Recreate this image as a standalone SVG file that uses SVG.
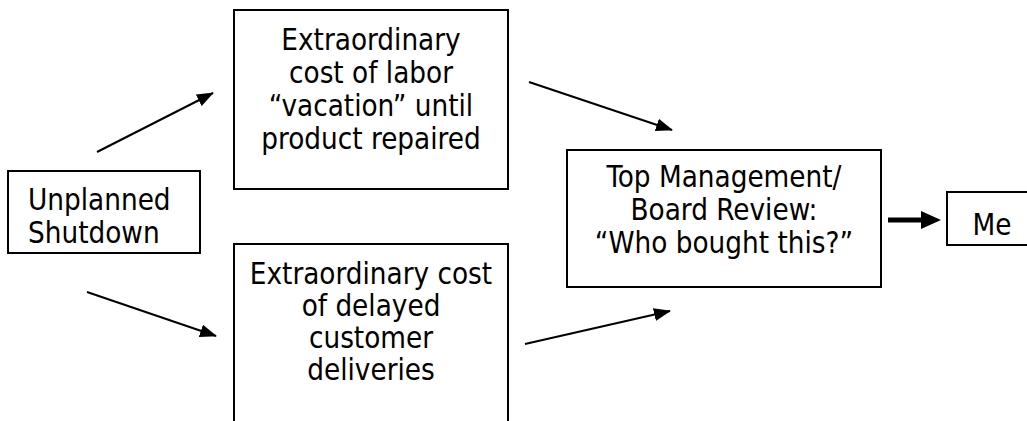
<svg xmlns="http://www.w3.org/2000/svg" width="1027" height="421" viewBox="0 0 1027 421">
  <style>
    .box { fill: #ffffff; stroke: #000000; stroke-width: 2; }
    .lbl { font-family: "DejaVu Sans", "Liberation Sans", sans-serif; font-stretch: condensed; font-size: 29.3px; fill: #000000; }
    .mid { text-anchor: middle; }
    .conn { stroke: #000000; stroke-width: 2; fill: none; marker-end: url(#head); }
    .bold { stroke: #000000; stroke-width: 5; fill: none; marker-end: url(#bighead); }
  </style>
  <defs>
    <marker id="head" markerUnits="userSpaceOnUse" markerWidth="17" markerHeight="13" refX="16" refY="6.5" orient="auto">
      <path d="M0,0 L17,6.5 L0,13 z" fill="#000000"/>
    </marker>
    <marker id="bighead" markerUnits="userSpaceOnUse" markerWidth="20" markerHeight="18" refX="2" refY="9" orient="auto">
      <path d="M0,0 L20,9 L0,18 z" fill="#000000"/>
    </marker>
  </defs>
  <rect width="1027" height="421" fill="#ffffff"/>

  <g id="unplanned-shutdown">
    <rect class="box" x="8" y="171" width="192" height="82"/>
    <text class="lbl" x="28" y="210">Unplanned</text>
    <text class="lbl" x="28" y="243">Shutdown</text>
  </g>

  <g id="labor-cost">
    <rect class="box" x="234" y="10" width="274" height="179"/>
    <text class="lbl mid" x="371" y="50">Extraordinary</text>
    <text class="lbl mid" x="371" y="83">cost of labor</text>
    <text class="lbl mid" x="371" y="116">“vacation” until</text>
    <text class="lbl mid" x="371" y="149">product repaired</text>
  </g>

  <g id="delivery-cost">
    <rect class="box" x="234" y="244" width="274" height="190"/>
    <text class="lbl mid" x="371" y="284">Extraordinary cost</text>
    <text class="lbl mid" x="371" y="316">of delayed</text>
    <text class="lbl mid" x="371" y="348">customer</text>
    <text class="lbl mid" x="371" y="380">deliveries</text>
  </g>

  <g id="board-review">
    <rect class="box" x="567" y="150" width="314" height="137"/>
    <text class="lbl mid" x="724" y="187">Top Management/</text>
    <text class="lbl mid" x="724" y="220">Board Review:</text>
    <text class="lbl mid" x="724" y="253">“Who bought this?”</text>
  </g>

  <g id="me">
    <rect class="box" x="947" y="192" width="90" height="53"/>
    <text class="lbl mid" x="992" y="235">Me</text>
  </g>

  <g id="connectors">
    <line class="conn" x1="97" y1="152" x2="213" y2="93"/>
    <line class="conn" x1="87" y1="292" x2="216" y2="336"/>
    <line class="conn" x1="529" y1="82" x2="672" y2="130"/>
    <line class="conn" x1="525" y1="344" x2="670" y2="311"/>
    <line class="bold" x1="888" y1="220" x2="923" y2="220"/>
  </g>
</svg>
